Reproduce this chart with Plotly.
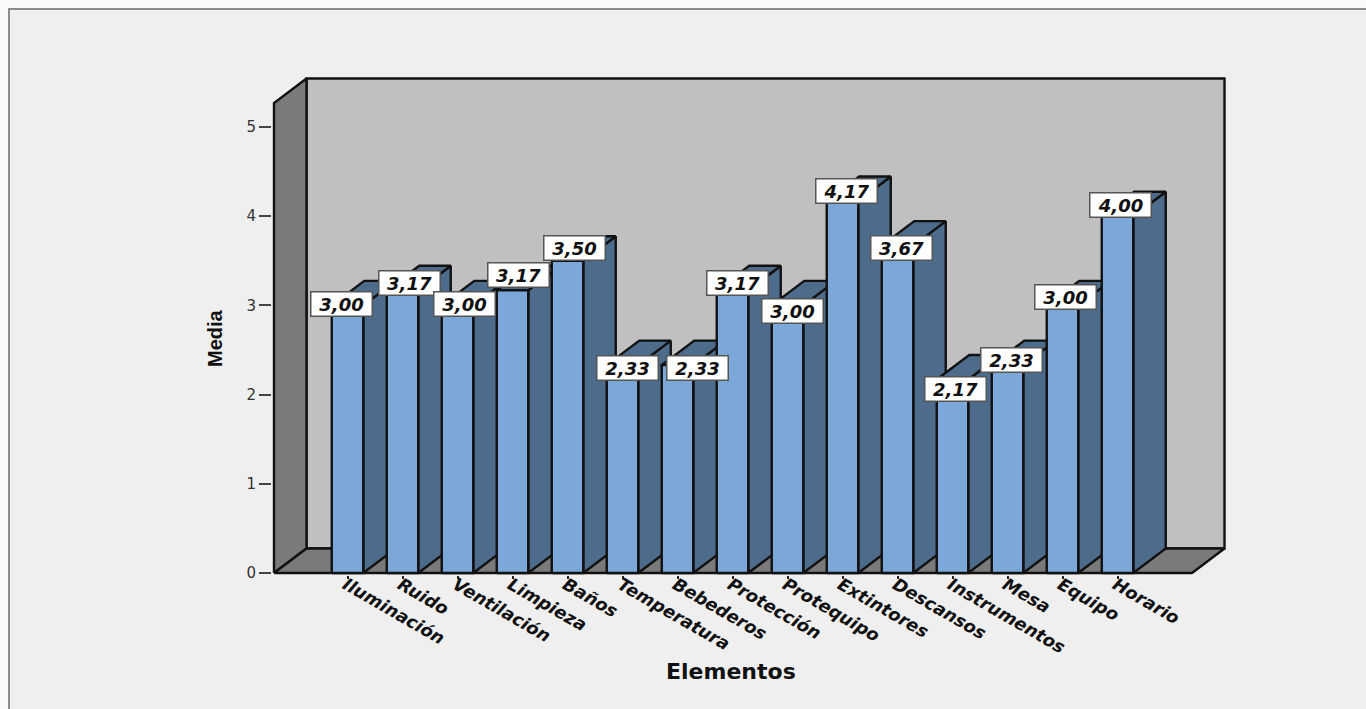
import plotly.graph_objects as go

categories = ["Iluminación", "Ruido", "Ventilación", "Limpieza", "Baños", "Temperatura",
              "Bebederos", "Protección", "Protequipo", "Extintores", "Descansos",
              "Instrumentos", "Mesa", "Equipo", "Horario"]
values = [3.00, 3.17, 3.00, 3.17, 3.50, 2.33, 2.33, 3.17, 3.00, 4.17, 3.67, 2.17, 2.33, 3.00, 4.00]
y_ticks = [0, 1, 2, 3, 4, 5]

# label box placement relative to each bar's top (pixels)
label_dx = [-5.8, 7, 7.2, 6.3, 6.5, 5.3, 19.5, 4.5, 4.5, 3.5, 3.5, 2.5, 3.5, 2.5, 2.5]
label_dy = [1.4, 7, 1.4, 15, 13, -3, -3, 7, -5.6, 10, -2.4, -9.6, 5, 8.4, 11]

# page geometry (pixels)
W, H = 1366, 709
PX_X0, PX_STEP = 347.5, 55.0      # pixel of category 0, pixels per category
PX_Y0, PX_UNIT = 573.0, 89.2      # pixel of value 0, pixels per unit
L, R, T, B = 272, 1240, 60, 575   # plot-area box

def cx(px):
    return (px - PX_X0) / PX_STEP

def vy(px):
    return (PX_Y0 - px) / PX_UNIT

DX = 32.5 / PX_STEP
DY = 24.5 / PX_UNIT
HALF = 15.75 / PX_STEP
X_LEFT, X_RIGHT, Y_TOP = cx(274), cx(1192), vy(103)

FRONT, SIDE = "#7ba8d8", "#4d6b8b"
WALL, DARK = "#c0c0c0", "#7a7a7a"
EDGE = "#111111"

fig = go.Figure()

def poly(xs, ys, fill):
    fig.add_trace(go.Scatter(
        x=list(xs) + [xs[0]], y=list(ys) + [ys[0]], mode="lines", fill="toself",
        fillcolor=fill, line=dict(color=EDGE, width=2.4), hoverinfo="skip",
        showlegend=False))

# chart box
poly([X_LEFT + DX, X_RIGHT + DX, X_RIGHT + DX, X_LEFT + DX], [DY, DY, Y_TOP + DY, Y_TOP + DY], WALL)
poly([X_LEFT, X_LEFT + DX, X_LEFT + DX, X_LEFT], [0, DY, Y_TOP + DY, Y_TOP], DARK)
poly([X_LEFT, X_LEFT + DX, X_RIGHT + DX, X_RIGHT], [0, DY, DY, 0], DARK)

# bars, back to front from left to right
for i, v in enumerate(values):
    l, r = i - HALF, i + HALF
    poly([r, r + DX, r + DX, r], [0, DY, v + DY, v], SIDE)
    poly([l, r, r + DX, l + DX], [v, v, v + DY, v + DY], SIDE)
    poly([l, r, r, l], [0, 0, v, v], FRONT)

annotations = [
    dict(x=i, y=v, text=f"{v:.2f}".replace(".", ","), showarrow=False,
         xshift=label_dx[i], yshift=label_dy[i],
         width=58, height=21, bgcolor="white", bordercolor="#555555", borderwidth=1.5,
         font=dict(family="DejaVu Sans", size=18, color="#111111", weight="bold", style="italic"))
    for i, v in enumerate(values)
]
annotations.append(dict(
    xref="paper", yref="paper", x=731 / W, y=1 - 671 / H, xanchor="center", yanchor="middle",
    text="Elementos", showarrow=False,
    font=dict(family="DejaVu Sans", size=22, color="#111111", weight="bold")))
annotations.append(dict(
    xref="paper", yref="paper", x=215 / W, y=1 - 338 / H, xanchor="center", yanchor="middle",
    text="Media", showarrow=False, textangle=-90,
    font=dict(family="Liberation Sans", size=20, color="#111111", weight="bold")))

frame = dict(type="rect", xref="paper", yref="paper", layer="below",
             x0=9 / W, x1=1.1, y0=-0.1, y1=1 - 9 / H, fillcolor="#efefef",
             line=dict(color="#8c8c8c", width=2))

fig.update_layout(
    width=W, height=H, margin=dict(l=0, r=0, t=0, b=0),
    paper_bgcolor="#fafafa", plot_bgcolor="rgba(0,0,0,0)",
    shapes=[frame], annotations=annotations, showlegend=False,
    xaxis=dict(domain=[L / W, R / W], range=[cx(L), cx(R)], tickmode="array", automargin=False,
               tickvals=list(range(len(categories))), ticktext=categories,
               tickangle=30, ticks="outside", ticklen=3, tickcolor="#222222", tickwidth=2,
               ticklabelshift=-2, ticklabelstandoff=-11,
               showgrid=False, zeroline=False, showline=False,
               tickfont=dict(family="DejaVu Sans", size=17.5, color="#111111", weight="bold", style="italic")),
    yaxis=dict(domain=[(H - B) / H, (H - T) / H], range=[vy(B), vy(T)], tickmode="array", automargin=False,
               tickvals=y_ticks, ticktext=[str(t) for t in y_ticks],
               ticks="outside", ticklen=12, tickcolor="#444444", tickwidth=2,
               showgrid=False, zeroline=False, showline=False,
               tickfont=dict(family="DejaVu Sans", size=15, color="#333333")),
)

fig.write_html("out.html", config={"displayModeBar": False},
               post_script="document.body.style.margin='0';document.body.style.overflow='hidden';")
